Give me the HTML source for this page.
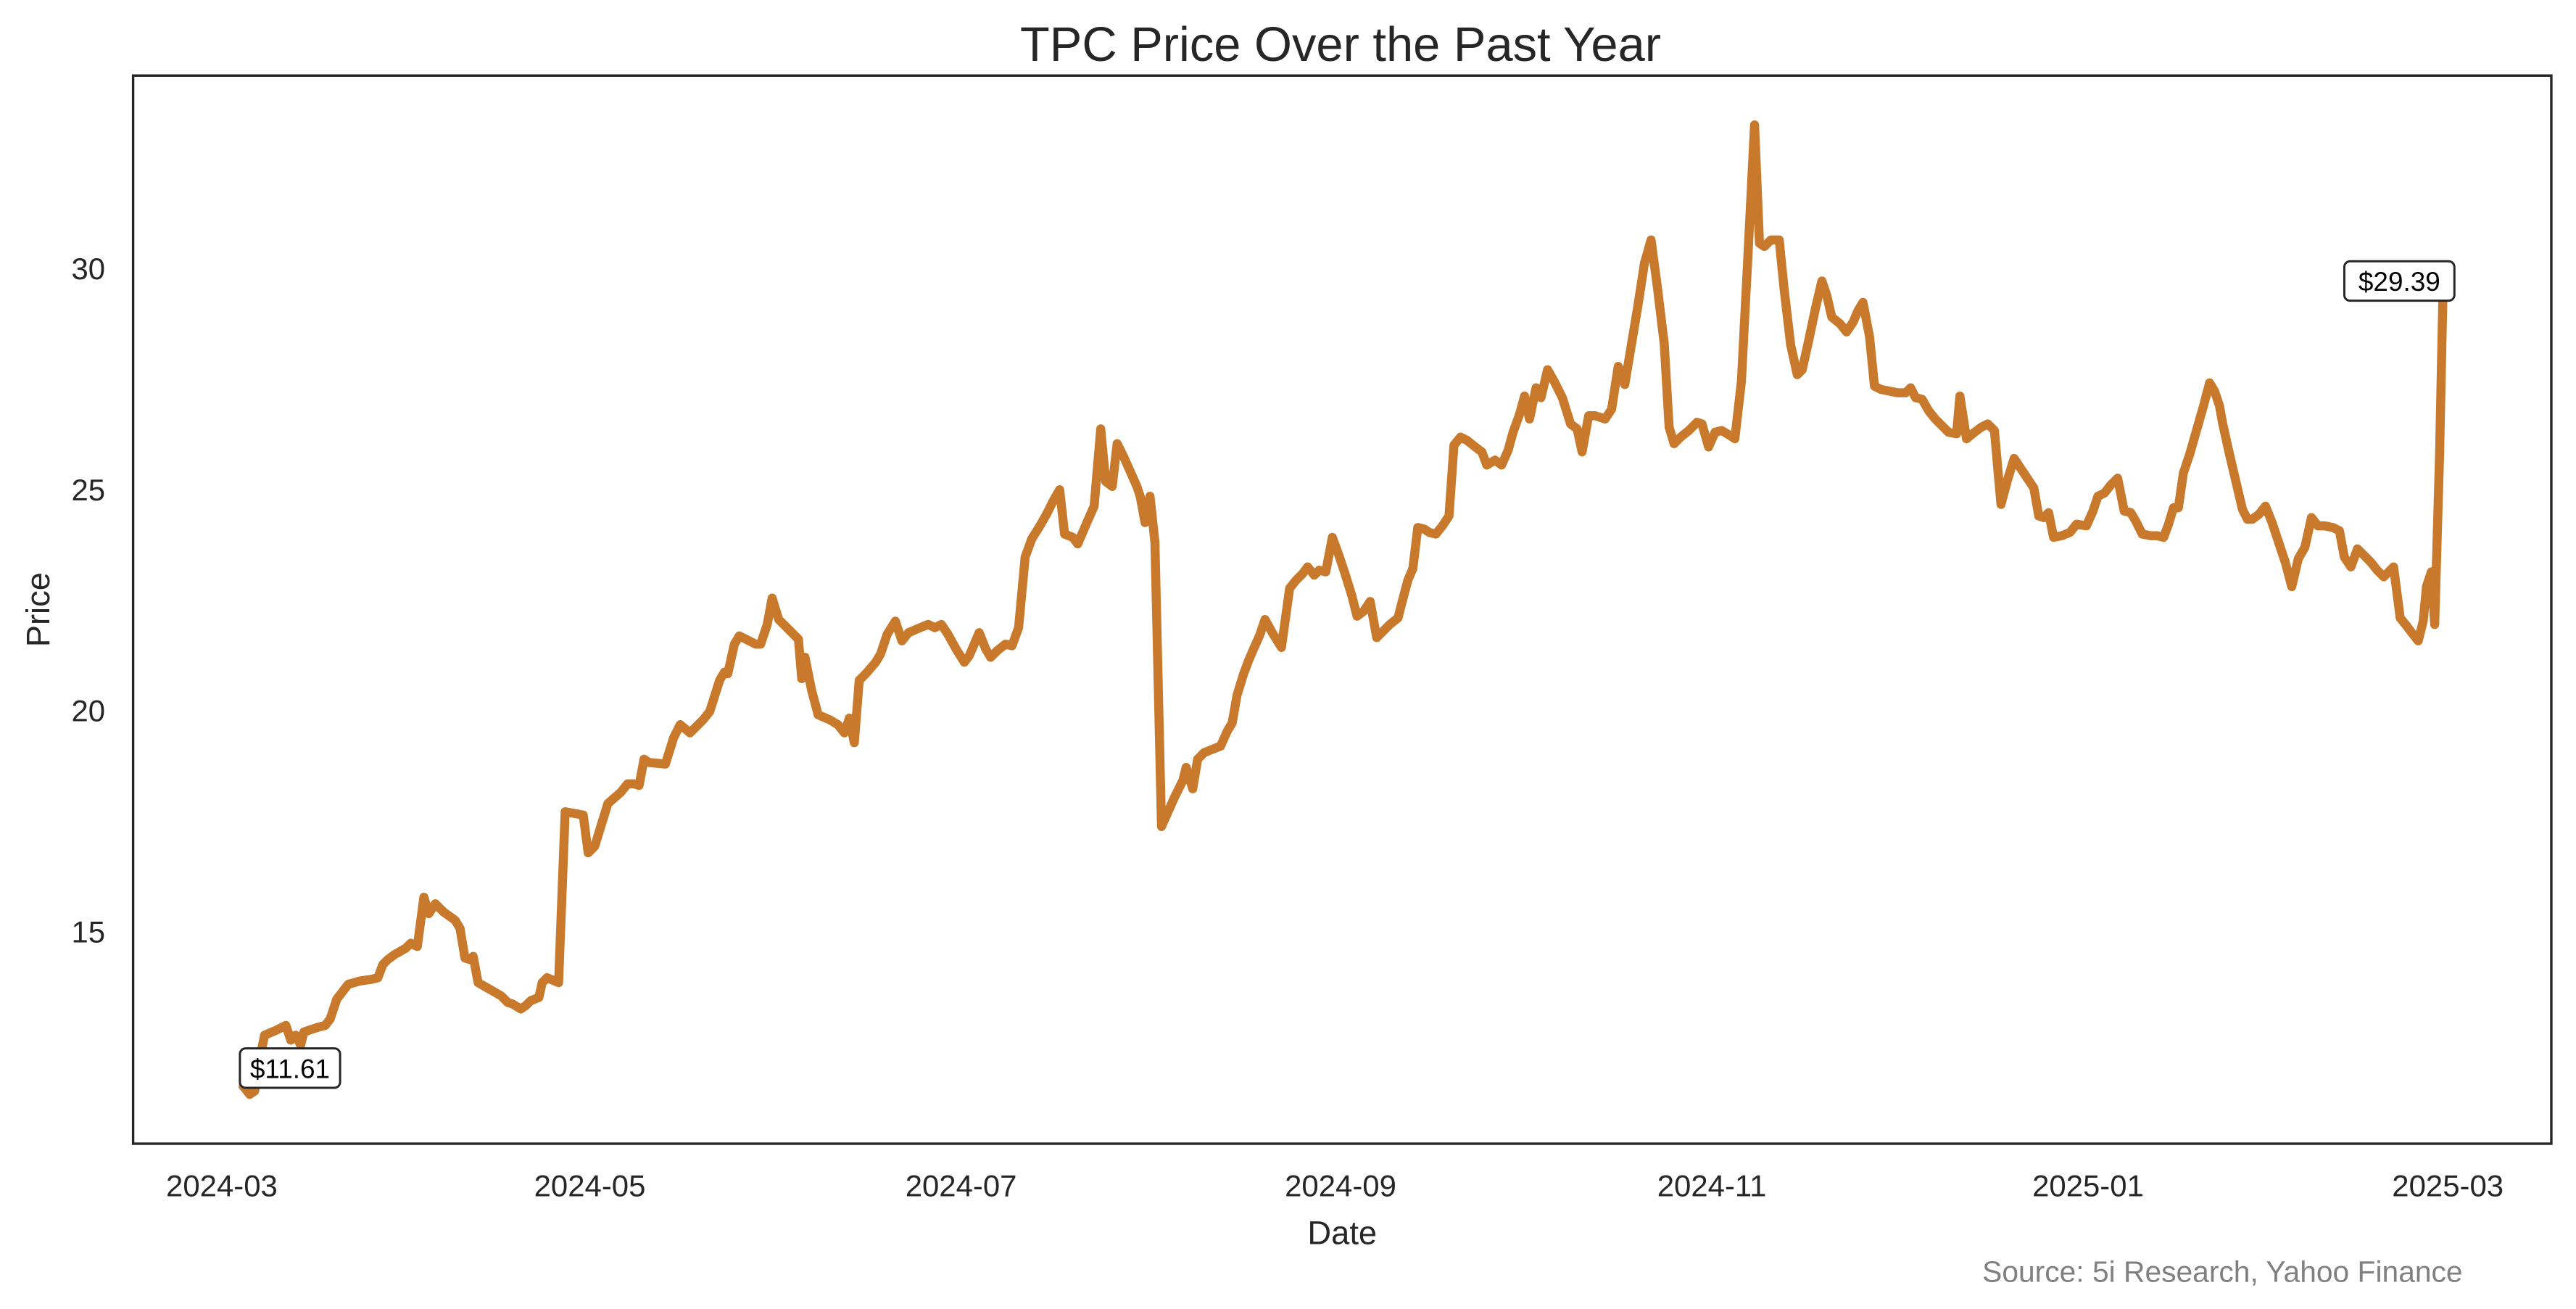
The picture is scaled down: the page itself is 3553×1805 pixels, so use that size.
<!DOCTYPE html>
<html><head><meta charset="utf-8"><style>html,body{margin:0;padding:0;background:#fff}svg{display:block}</style></head>
<body>
<svg width="3553" height="1805" viewBox="0 0 1568 796.6" xmlns="http://www.w3.org/2000/svg" font-family="Liberation Sans, Arial, sans-serif">
<rect width="1568" height="796.6" fill="#fff"/>
<text x="816" y="37" font-size="29.5" text-anchor="middle" fill="#262626">TPC Price Over the Past Year</text>
<polyline fill="none" stroke="#C8792C" stroke-width="5.5" stroke-linejoin="round" stroke-linecap="round" points="148,661 152,666 155,664 158,645 161,630 168,627 174,624 177,633 180,630 183,636 185,628 188,627 194,625 198,624 201,620 205,608 212,599 219,597 226,596 230,595 233,587 236,584 240,581 247,577 250,574 254,576 258,546 261,556 265,550 270,555 277,560 280,565 283,583 286,584 288,582 291,598 298,602 305,606 309,610 312,611 317,614 320,612 323,609 328,607 330,598 333,595 340,598 344,494 355,496 358,519 362,515 370,489 378,482 382,477 386,477 389,478 392,462 395,464 405,465 410,449 414,441 420,446 428,438 432,433 438,414 441,409 443,410 447,392 450,387 460,392 463,392 467,380 470,364 474,377 480,383 486,389 488,413 490,400 494,420 498,435 505,438 510,441 514,446 517,437 520,452 523,414 527,410 533,403 536,398 540,386 545,378 549,390 553,385 560,382 565,380 569,382 573,380 577,386 582,395 587,403 590,399 596,385 600,395 603,400 607,396 612,392 616,393 620,382 624,339 628,328 633,320 637,313 641,305 645,298 648,325 653,327 656,331 662,317 666,308 670,261 673,293 677,296 680,270 684,278 688,287 692,296 694,302 697,318 700,302 703,330 707,503 711,494 715,485 720,475 722,467 726,480 729,462 733,458 738,456 743,454 747,445 750,440 753,423 757,410 760,402 763,395 767,386 770,377 775,386 780,394 785,358 789,353 793,349 796,345 800,350 803,347 807,348 811,327 815,338 819,350 823,363 826,375 830,372 834,366 838,388 842,384 846,380 851,376 853,368 857,353 860,346 863,321 867,322 870,324 874,325 878,320 882,314 885,271 889,266 893,268 898,272 902,275 905,283 910,280 914,283 918,274 921,263 925,252 928,241 931,255 935,236 938,242 942,225 946,232 951,242 956,258 960,261 963,275 967,253 971,253 977,255 981,249 985,223 989,234 993,210 997,186 1001,160 1005,146 1009,176 1013,209 1016,260 1019,270 1023,266 1028,262 1033,257 1036,258 1040,272 1044,263 1048,262 1053,265 1056,267 1060,232 1064,155 1068,76 1071,148 1074,150 1078,146 1083,146 1086,176 1090,210 1094,228 1097,225 1101,207 1105,188 1109,171 1112,180 1115,193 1120,197 1124,202 1128,196 1131,189 1134,184 1138,205 1141,235 1145,237 1150,238 1155,239 1160,239 1163,236 1166,242 1170,243 1174,250 1178,255 1182,259 1186,263 1191,264 1193,241 1197,267 1202,263 1206,260 1210,258 1214,262 1218,307 1222,292 1226,279 1230,285 1234,291 1238,297 1241,314 1244,315 1247,312 1250,327 1255,326 1260,324 1264,319 1270,320 1274,311 1277,302 1281,300 1285,295 1289,291 1293,311 1297,312 1300,317 1304,325 1309,326 1313,326 1317,327 1320,319 1323,309 1326,309 1329,288 1333,276 1337,262 1341,248 1345,233 1348,238 1351,247 1353,258 1357,276 1361,293 1365,310 1368,316 1371,316 1375,313 1379,308 1383,318 1387,330 1391,342 1395,357 1399,340 1403,333 1407,315 1411,320 1415,320 1420,321 1424,323 1427,339 1431,345 1435,334 1439,338 1443,342 1447,347 1451,351 1455,347 1457,345 1461,376 1465,381 1468,385 1472,390 1475,378 1477,357 1480,348 1482,380 1485,276 1487,180"/>
<rect x="81" y="46" width="1472" height="650" fill="none" stroke="#262626" stroke-width="1.5"/>
<g font-size="16.3" fill="#000" text-anchor="middle">
<rect x="146" y="638" width="61" height="24" rx="3.5" fill="#fff" stroke="#262626" stroke-width="1.3"/>
<text x="176.5" y="656">$11.61</text>
<rect x="1427" y="159" width="67" height="24" rx="3.5" fill="#fff" stroke="#262626" stroke-width="1.3"/>
<text x="1460.5" y="177">$29.39</text>
</g>
<g font-size="18.5" fill="#262626" text-anchor="end">
<text x="64" y="573.5">15</text>
<text x="64" y="439">20</text>
<text x="64" y="304.5">25</text>
<text x="64" y="170">30</text>
</g>
<g font-size="18.5" fill="#262626" text-anchor="middle">
<text x="135" y="728">2024-03</text>
<text x="359" y="728">2024-05</text>
<text x="585" y="728">2024-07</text>
<text x="816" y="728">2024-09</text>
<text x="1042" y="728">2024-11</text>
<text x="1271" y="728">2025-01</text>
<text x="1490" y="728">2025-03</text>
</g>
<text x="817" y="757" font-size="20" fill="#262626" text-anchor="middle">Date</text>
<text transform="translate(30,371) rotate(-90)" font-size="20" fill="#262626" text-anchor="middle">Price</text>
<text x="1499" y="780" font-size="18" fill="#808080" text-anchor="end">Source: 5i Research, Yahoo Finance</text>
</svg>
</body></html>
